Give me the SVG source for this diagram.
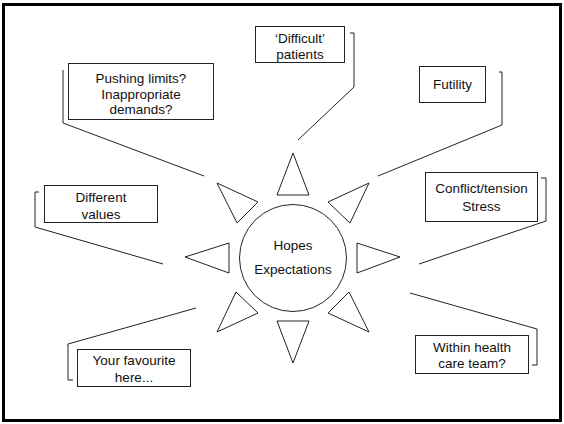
<svg xmlns="http://www.w3.org/2000/svg" width="564" height="424" viewBox="0 0 564 424">
<style>
.box{fill:#fff;stroke:#222;stroke-width:1}
.tri{fill:#fff;stroke:#222;stroke-width:1;stroke-linejoin:miter}
.con{fill:none;stroke:#222;stroke-width:1}
text{font-family:"Liberation Sans",Arial,sans-serif;font-size:13.5px;fill:#111;text-anchor:middle}
</style>
<rect x="0" y="0" width="564" height="424" fill="#fff"/>
<rect x="3.5" y="4.5" width="557" height="416" fill="none" stroke="#000" stroke-width="3"/>
<g id="connectors">
<polyline class="con" points="63,70 63,123 204,176"/>
<polyline class="con" points="350,33 354,33 354,87 298,140"/>
<polyline class="con" points="499,72 502,72 502,125 378,176"/>
<polyline class="con" points="541,178 546,178 546,221 419,264"/>
<polyline class="con" points="410,293 537,329 537,365 532,365"/>
<polyline class="con" points="196,308 68,344 68,380 73,380"/>
<polyline class="con" points="39,192 35,192 35,227 163,264"/>
</g>
<g id="sun">
<circle cx="293" cy="258" r="53.5" class="box"/>
<text x="293" y="250">Hopes</text>
<text x="293" y="274">Expectations</text>
<polygon class="tri" points="293,153 277,195 309,195"/>
<polygon class="tri" points="217,183 258,202 237,223"/>
<polygon class="tri" points="369,183 328,202 350,223"/>
<polygon class="tri" points="185,257 229,243 229,273"/>
<polygon class="tri" points="400,257 357,243 357,273"/>
<polygon class="tri" points="236,292 258,313 217,332"/>
<polygon class="tri" points="349,292 328,313 369,332"/>
<polygon class="tri" points="277,321 309,321 293,363"/>
</g>
<g id="pushing">
<rect class="box" x="68.5" y="63.5" width="145" height="56"/>
<text x="141" y="83">Pushing limits?</text>
<text x="141" y="98.5">Inappropriate</text>
<text x="141" y="114">demands?</text>
</g>
<g id="difficult">
<rect class="box" x="255.5" y="26.5" width="89" height="36"/>
<text x="300" y="43">‘Difficult’</text>
<text x="300" y="59">patients</text>
</g>
<g id="futility">
<rect class="box" x="419.5" y="66.5" width="66" height="36"/>
<text x="452.5" y="89">Futility</text>
</g>
<g id="conflict">
<rect class="box" x="425.5" y="172.5" width="112" height="49"/>
<text x="481.5" y="193">Conflict/tension</text>
<text x="481.5" y="211">Stress</text>
</g>
<g id="within">
<rect class="box" x="415.5" y="335.5" width="113" height="38"/>
<text x="472" y="352">Within health</text>
<text x="472" y="368">care team?</text>
</g>
<g id="favourite">
<rect class="box" x="77.5" y="349.5" width="113" height="37"/>
<text x="134" y="365">Your favourite</text>
<text x="134" y="382">here...</text>
</g>
<g id="values">
<rect class="box" x="44.5" y="185.5" width="113" height="37"/>
<text x="101" y="202">Different</text>
<text x="101" y="218.5">values</text>
</g>
</svg>
